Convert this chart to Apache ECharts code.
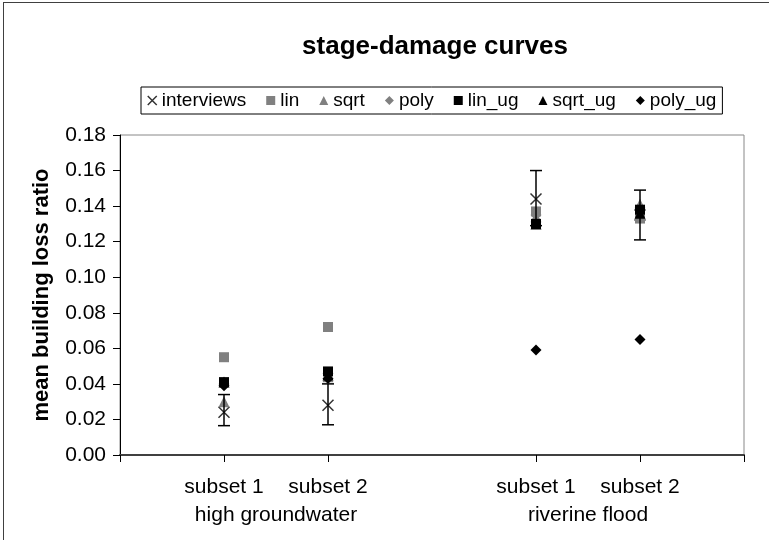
<!DOCTYPE html>
<html>
<head>
<meta charset="utf-8">
<script src="https://cdn.jsdelivr.net/npm/echarts@6/dist/echarts.min.js"></script>
<style>
  html, body { margin: 0; padding: 0; background: #fff; }
  #frame { position: absolute; left: 3px; top: 2px; width: 790px; height: 560px; border: 1px solid #404040; box-sizing: border-box; }
  #main { position: absolute; left: 0; top: 0; width: 769px; height: 540px; }
</style>
</head>
<body>
<div id="frame"></div>
<div id="main"></div>
<script>
// ---- data ----
const xPos = [1, 2, 4, 5];
const subsetLabels = ['subset 1', 'subset 2', 'subset 1', 'subset 2'];
const groupPos = [1.5, 4.5];
const groupLabels = ['high groundwater', 'riverine flood'];
const yTicks = [0, 0.02, 0.04, 0.06, 0.08, 0.10, 0.12, 0.14, 0.16, 0.18];

const interviews = [0.024, 0.028, 0.144, 0.135];
const errLow     = [0.0165, 0.017, 0.129, 0.121];
const errHigh    = [0.034, 0.040, 0.160, 0.149];
const lin     = [0.055, 0.072, 0.137, 0.133];
const sqrt    = [0.030, 0.044, 0.134, 0.141];
const poly    = [0.040, 0.046, 0.135, 0.139];
const lin_ug  = [0.041, 0.047, 0.130, 0.138];
const sqrt_ug = [0.041, 0.045, 0.130, 0.136];
const poly_ug = [0.039, 0.043, 0.059, 0.065];

// ---- chart ----
const FONT = '"Liberation Sans", Arial, sans-serif';
const GRAY = '#808080';
const BLACK = '#000000';
const crossPath = 'path://M0,0L10,10M10,0L0,10';

function pts(vals) { return vals.map((v, i) => [xPos[i], v]); }

function scatter(name, vals, symbol, size, color) {
  return {
    name, type: 'scatter', data: pts(vals), symbol, symbolSize: size,
    itemStyle: { color, opacity: 1 }, z: 3
  };
}

const chart = echarts.init(document.getElementById('main'), null, { renderer: 'canvas' });
chart.setOption({
  animation: false,
  textStyle: { fontFamily: FONT },
  title: {
    text: 'stage-damage curves',
    left: 430, top: 29, textAlign: 'center',
    textStyle: { fontFamily: FONT, fontSize: 26, fontWeight: 'bold', color: '#000' }
  },
  legend: {
    top: 87, left: 141,
    orient: 'horizontal',
    borderColor: '#000', borderWidth: 1, padding: [4, 6, 4, 6],
    itemGap: 20, itemWidth: 9, itemHeight: 9,
    textStyle: { fontFamily: FONT, fontSize: 19, color: '#000' },
    data: [
      { name: 'interviews', icon: crossPath, itemStyle: { color: 'transparent', borderColor: BLACK, borderWidth: 1.5 } },
      { name: 'lin', icon: 'rect' },
      { name: 'sqrt', icon: 'triangle' },
      { name: 'poly', icon: 'diamond' },
      { name: 'lin_ug', icon: 'rect' },
      { name: 'sqrt_ug', icon: 'triangle' },
      { name: 'poly_ug', icon: 'diamond' }
    ]
  },
  grid: { left: 120, right: 25, top: 135, bottom: 85, show: true, borderColor: '#888', borderWidth: 1, backgroundColor: '#fff' },
  xAxis: [
    {
      type: 'value', min: 0, max: 6, position: 'bottom',
      axisLine: { show: true, onZero: false, lineStyle: { color: '#404040', width: 2 } },
      axisTick: { show: true, inside: false, length: 7, customValues: [0, 1, 2, 4, 5, 6], lineStyle: { color: '#000', width: 1 } },
      axisLabel: {
        customValues: xPos, margin: 22,
        formatter: v => subsetLabels[xPos.indexOf(v)] || '',
        fontFamily: FONT, fontSize: 21, color: '#000'
      },
      splitLine: { show: false }
    },
    {
      type: 'value', min: 0, max: 6, position: 'bottom', offset: 0,
      axisLine: { show: false }, axisTick: { show: false },
      axisLabel: {
        customValues: groupPos, margin: 50,
        formatter: v => groupLabels[groupPos.indexOf(v)] || '',
        fontFamily: FONT, fontSize: 21, color: '#000'
      },
      splitLine: { show: false }
    }
  ],
  yAxis: {
    type: 'value', min: 0, max: 0.18, interval: 0.02,
    name: 'mean building loss ratio', nameLocation: 'middle', nameGap: 67,
    nameTextStyle: { fontFamily: FONT, fontSize: 22, fontWeight: 'bold', color: '#000' },
    axisLine: { show: true, lineStyle: { color: '#000', width: 1 } },
    axisTick: { show: true, inside: false, length: 7, lineStyle: { color: '#000' } },
    axisLabel: {
      margin: 14, fontFamily: FONT, fontSize: 21, color: '#000',
      customValues: yTicks,
      formatter: v => v.toFixed(2)
    },
    splitLine: { show: false }
  },
  series: [
    {
      name: 'interviews', type: 'scatter', data: pts(interviews),
      symbol: crossPath, symbolSize: 11,
      itemStyle: { color: 'transparent', borderColor: BLACK, borderWidth: 1.5 }, z: 3
    },
    {
      name: 'errorbar', type: 'custom', z: 4,
      data: xPos.map((x, i) => [x, errLow[i], errHigh[i]]),
      renderItem: function (params, api) {
        const lo = api.coord([api.value(0), api.value(1)]);
        const hi = api.coord([api.value(0), api.value(2)]);
        const hw = 6;
        const style = { stroke: '#000', lineWidth: 1.5 };
        return {
          type: 'group',
          children: [
            { type: 'line', shape: { x1: lo[0], y1: lo[1], x2: hi[0], y2: hi[1] }, style },
            { type: 'line', shape: { x1: lo[0] - hw, y1: lo[1], x2: lo[0] + hw, y2: lo[1] }, style },
            { type: 'line', shape: { x1: hi[0] - hw, y1: hi[1], x2: hi[0] + hw, y2: hi[1] }, style }
          ]
        };
      }
    },
    scatter('lin', lin, 'rect', 10, GRAY),
    scatter('sqrt', sqrt, 'triangle', 11, GRAY),
    scatter('poly', poly, 'diamond', 11, GRAY),
    scatter('lin_ug', lin_ug, 'rect', 10, BLACK),
    scatter('sqrt_ug', sqrt_ug, 'triangle', 11, BLACK),
    scatter('poly_ug', poly_ug, 'diamond', 11, BLACK)
  ]
});
</script>
</body>
</html>
